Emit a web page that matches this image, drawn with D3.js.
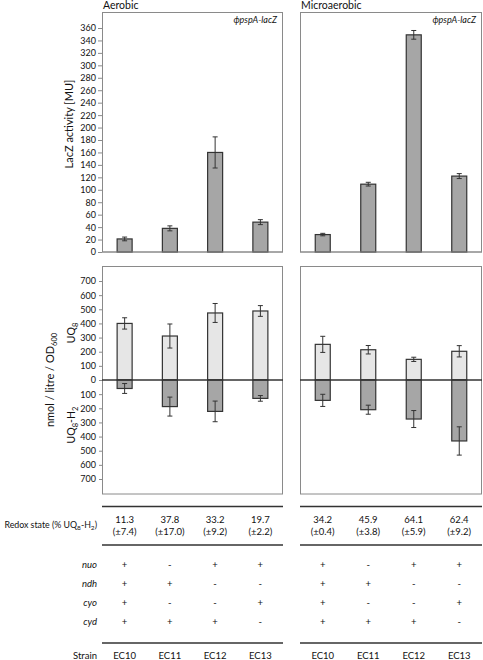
<!DOCTYPE html>
<html><head><meta charset="utf-8">
<script src="https://cdn.jsdelivr.net/npm/d3@7"></script>
<style>body{margin:0;background:#fff}svg{display:block;font-family:Lato,"Open Sans",sans-serif}</style>
</head><body><svg id="c" width="483" height="660"></svg>
<script>
const strains = ["EC10","EC11","EC12","EC13"];
const conditions = ["Aerobic","Microaerobic"];
const lacAer = [21,38,160,48], lacAerErr = [3,4,25,4];
const lacMic = [28,109,349,122], lacMicErr = [2,3,7,4];
const uqAer = [400,311,474,488], uqAerErr = [40,85,67,38];
const uqh2Aer = [60,188,222,130], uqh2AerErr = [35,67,73,20];
const uqMic = [252,214,146,203], uqMicErr = [57,30,15,40];
const uqh2Mic = [144,210,276,431], uqh2MicErr = [43,32,60,100];
const redoxAer = ["11.3","37.8","33.2","19.7"], redoxAerSd = ["±7.4","±17.0","±9.2","±2.2"];
const redoxMic = ["34.2","45.9","64.1","62.4"], redoxMicSd = ["±0.4","±3.8","±5.9","±9.2"];
const genes = ["nuo","ndh","cyo","cyd"];
const genotype = [["+","-","+","+"],["+","+","-","-"],["+","-","-","+"],["+","+","+","-"]];
const lacTicks = d3.range(0,361,20);
const uqTicks = [700,600,500,400,300,200,100,0,-100,-200,-300,-400,-500,-600,-700];

const svg = d3.select("#c");
const ink = "#111";
const panels = [
  {x0:102, x1:283, lac:lacAer, lacE:lacAerErr, uq:uqAer, uqE:uqAerErr, h2:uqh2Aer, h2E:uqh2AerErr, rv:redoxAer, rs:redoxAerSd},
  {x0:300, x1:482, lac:lacMic, lacE:lacMicErr, uq:uqMic, uqE:uqMicErr, h2:uqh2Mic, h2E:uqh2MicErr, rv:redoxMic, rs:redoxMicSd}
];
const yTop = d3.scaleLinear().domain([0,360]).range([252,28]);
const yBot = d3.scaleLinear().domain([-700,700]).range([479,281]);
const bw = 15;
const dark = "#333", border = "#8a8a8a";

function errBar(g, x, y1, y2){
  g.append("line").attr("x1",x).attr("x2",x).attr("y1",y1).attr("y2",y2).attr("stroke",dark).attr("stroke-width",1);
  [y1,y2].forEach(y=>g.append("line").attr("x1",x-2.5).attr("x2",x+2.5).attr("y1",y).attr("y2",y).attr("stroke",dark).attr("stroke-width",1));
}

panels.forEach((p,pi)=>{
  const x = d3.scaleBand().domain(strains).range([p.x0,p.x1]).padding(0);
  const cx = s => x(s)+x.bandwidth()/2;
  const g = svg.append("g");
  g.append("text").attr("x",p.x0+1).attr("y",9).attr("font-size",10.5).attr("fill",ink).text(conditions[pi]);
  g.append("rect").attr("x",p.x0+0.5).attr("y",12.5).attr("width",p.x1-p.x0-1).attr("height",239.5).attr("fill","none").attr("stroke",border);
  g.append("text").attr("x",p.x1-6).attr("y",23).attr("text-anchor","end").attr("font-size",9).attr("font-style","italic").attr("fill",ink).text("ϕpspA-lacZ");
  strains.forEach((s,i)=>{
    g.append("rect").attr("x",cx(s)-bw/2).attr("y",yTop(p.lac[i])).attr("width",bw).attr("height",yTop(0)-yTop(p.lac[i]))
      .attr("fill","#a6a6a6").attr("stroke",dark).attr("stroke-width",1.2);
    errBar(g, cx(s), yTop(p.lac[i]+p.lacE[i]), yTop(p.lac[i]-p.lacE[i]));
  });
  g.append("line").attr("x1",p.x0).attr("x2",p.x1).attr("y1",252).attr("y2",252).attr("stroke",border);
  g.append("rect").attr("x",p.x0+0.5).attr("y",266.5).attr("width",p.x1-p.x0-1).attr("height",227.5).attr("fill","none").attr("stroke",border);
  strains.forEach((s,i)=>{
    g.append("rect").attr("x",cx(s)-bw/2).attr("y",yBot(p.uq[i])).attr("width",bw).attr("height",yBot(0)-yBot(p.uq[i]))
      .attr("fill","#e6e6e6").attr("stroke",dark).attr("stroke-width",1.2);
    g.append("rect").attr("x",cx(s)-bw/2).attr("y",yBot(0)).attr("width",bw).attr("height",yBot(-p.h2[i])-yBot(0))
      .attr("fill","#a6a6a6").attr("stroke",dark).attr("stroke-width",1.2);
    errBar(g, cx(s), yBot(p.uq[i]+p.uqE[i]), yBot(p.uq[i]-p.uqE[i]));
    errBar(g, cx(s), yBot(-p.h2[i]+p.h2E[i]), yBot(-p.h2[i]-p.h2E[i]));
  });
  g.append("line").attr("x1",p.x0).attr("x2",p.x1).attr("y1",yBot(0)).attr("y2",yBot(0)).attr("stroke",dark).attr("stroke-width",1.3);
  [506.5,545,643].forEach(y=>g.append("line").attr("x1",p.x0).attr("x2",p.x1).attr("y1",y).attr("y2",y).attr("stroke",dark).attr("stroke-width",1.3));
  strains.forEach((s,i)=>{
    g.append("text").attr("x",cx(s)).attr("y",523).attr("text-anchor","middle").attr("font-size",9.5).attr("fill",ink).text(p.rv[i]);
    g.append("text").attr("x",cx(s)).attr("y",535).attr("text-anchor","middle").attr("font-size",9.5).attr("fill",ink).text("("+p.rs[i]+")");
    genes.forEach((gn,j)=>{
      g.append("text").attr("x",cx(s)).attr("y",568+j*19).attr("text-anchor","middle").attr("font-size",9.5).attr("fill",ink).text(genotype[j][i]);
    });
    g.append("text").attr("x",cx(s)).attr("y",659).attr("text-anchor","middle").attr("font-size",9.5).attr("fill",ink).text(s);
  });
});

const axT = d3.axisLeft(yTop).tickValues(lacTicks).tickSize(4).tickPadding(2);
const gT = svg.append("g").attr("transform","translate(102,0)").call(axT);
const axB = d3.axisLeft(yBot).tickValues(uqTicks).tickSize(3).tickPadding(3).tickFormat(d=>Math.abs(d));
const gB = svg.append("g").attr("transform","translate(102,0)").call(axB);
[gT,gB].forEach(g=>{
  g.select(".domain").remove();
  g.selectAll(".tick line").attr("stroke",border);
  g.selectAll(".tick text").attr("font-size",9).attr("fill",ink).attr("font-family","Lato,sans-serif");
});

function vtext(x,y,size){
  return svg.append("text").attr("transform",`translate(${x},${y}) rotate(-90)`).attr("text-anchor","middle").attr("font-size",size).attr("fill",ink);
}
vtext(73,124,11).text("LacZ activity [MU]");
const t1 = vtext(54,380,11);
t1.append("tspan").text("nmol / litre / OD");
t1.append("tspan").attr("font-size",7.5).attr("dy",3).text("600");
const t2 = vtext(75,333,10.5);
t2.append("tspan").text("UQ");
t2.append("tspan").attr("font-size",7.5).attr("dy",3).text("8");
const t3 = vtext(75,425,10.5);
t3.append("tspan").text("UQ");
t3.append("tspan").attr("font-size",7.5).attr("dy",3).text("8");
t3.append("tspan").attr("dy",-3).text("-H");
t3.append("tspan").attr("font-size",7.5).attr("dy",3).text("2");

const rl = svg.append("text").attr("x",97).attr("y",528).attr("text-anchor","end").attr("font-size",8.8).attr("fill",ink);
rl.append("tspan").text("Redox state (% UQ");
rl.append("tspan").attr("font-size",6.5).attr("dy",2).text("8");
rl.append("tspan").attr("dy",-2).text("-H");
rl.append("tspan").attr("font-size",6.5).attr("dy",2).text("2");
rl.append("tspan").attr("dy",-2).text(")");
genes.forEach((gn,j)=>svg.append("text").attr("x",97).attr("y",568+j*19).attr("text-anchor","end").attr("font-size",9.5).attr("font-style","italic").attr("fill",ink).text(gn));
svg.append("text").attr("x",97).attr("y",659).attr("text-anchor","end").attr("font-size",9.5).attr("fill",ink).text("Strain");
</script></body></html>
